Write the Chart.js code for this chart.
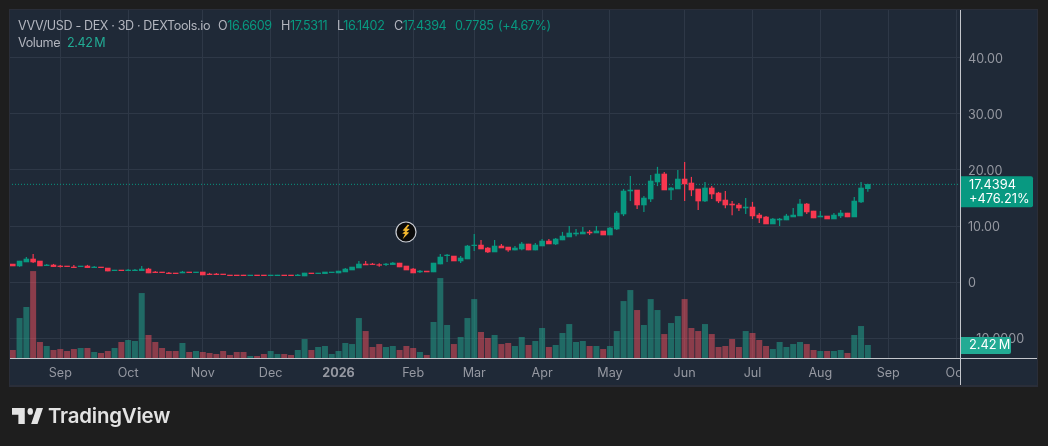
<!DOCTYPE html>
<html>
<head>
<meta charset="utf-8">
<title>VVV/USD</title>
<script src="https://cdn.jsdelivr.net/npm/chart.js@4"></script>
<style>
  html, body { margin: 0; padding: 0; background: #1e1e1e; }
  body { width: 1048px; height: 446px; position: relative; overflow: hidden; font-family: Inter, "Noto Sans", sans-serif; }
  canvas { position: absolute; left: 0; top: 0; }
  .legend { position: absolute; left: 18px; font-size: 12.6px; line-height: 16px; color: #b2b5be; white-space: nowrap; letter-spacing: -0.38px; }
  .legend span { position: absolute; top: 0; }
  .up { color: #089981; }
  .vol { color: #22ab94; word-spacing: -1.5px; }
  #bolt { position: absolute; left: 395px; top: 221px; }
  #logo { position: absolute; left: 12px; top: 408px; }
  #brand { position: absolute; left: 48px; top: 403px; font-size: 20.4px; line-height: 26px; font-weight: 600; color: #e3e3e3; letter-spacing: -0.2px; }
</style>
</head>
<body>
<canvas id="myChart" width="1048" height="446"></canvas>
<div class="legend" style="top:18px">VVV/USD - DEX · 3D · DEXTools.io
  <span style="left:200px">O<b class="up" style="font-weight:400">16.6609</b></span>
  <span style="left:263px">H<b class="up" style="font-weight:400">17.5311</b></span>
  <span style="left:319px">L<b class="up" style="font-weight:400">16.1402</b></span>
  <span style="left:376px">C<b class="up" style="font-weight:400">17.4394</b></span>
  <span style="left:437px" class="up">0.7785</span>
  <span style="left:480px" class="up">(+4.67%)</span>
</div>
<div class="legend" style="top:35px">Volume <span class="vol" style="left:49px">2.42 M</span></div>
<svg id="bolt" width="22" height="22" viewBox="0 0 22 22">
  <circle cx="11" cy="11" r="10" fill="#0b0b0b" stroke="#c9ccd3" stroke-width="1.2"/>
  <path d="M12.8 3.6 L7.6 9.6 L10.4 9.9 L7.2 12.6 L10 13 L7.6 18.2 L14.2 11.4 L11.4 11 L14.8 8 L11.6 7.6 L14.4 4.2 Z" fill="#f5b92e"/>
</svg>
<svg id="logo" width="31" height="16" viewBox="0 0 34 14" preserveAspectRatio="none">
  <path d="M14 0H0v6h7v8h7V0Zm14 14h-7l6-14h7l-6 14Z" fill="#e3e3e3"/>
  <circle cx="20" cy="3" r="3" fill="#e3e3e3"/>
</svg>
<div id="brand">TradingView</div>
<script>
// 3D candles
let opens = [3.21,2.86,3.57,4.11,3.75,2.92,3.04,2.86,2.86,2.68,
  2.74,2.86,2.56,2.68,2.5,2.02,2.14,2.02,2.02,2.02,
  2.32,1.79,1.79,1.61,1.61,1.61,1.79,1.67,1.79,1.43,
  1.43,1.43,1.25,1.25,1.25,1.13,1.25,1.25,1.13,1.13,
  1.25,1.25,1.13,1.07,1.61,1.49,1.49,1.67,1.61,1.79,
  2.14,2.5,3.21,3.21,3.1,3.1,3.1,3.39,2.86,2.32,
  1.79,1.96,1.79,3.21,4.7,4.64,3.75,4.11,6.49,6.6,
  6.07,5.36,6.43,6.25,5.71,5.89,6.79,5.71,6.43,7.32,
  6.79,7.5,8.04,8.57,8.57,8.93,8.75,9.11,8.39,9.46,
  12.14,16.25,16.43,13.75,14.82,17.86,19.29,16.43,16.61,18.39,
  17.68,16.61,14.46,16.79,15.89,14.64,13.93,13.75,13.21,13.39,
  11.96,11.61,10.36,11.07,11.07,11.61,11.79,13.93,12.68,11.61,
  11.79,11.25,11.79,12.32,11.61,14.29,16.6609];
let highs = [3.21,3.75,4.46,5.0,3.75,3.21,3.21,3.04,2.86,3.04,
  2.86,3.04,2.86,2.68,2.5,2.14,2.14,2.32,2.32,2.86,
  2.5,1.96,1.79,1.79,1.61,1.96,1.79,1.79,1.79,1.61,
  1.61,1.43,1.25,1.25,1.25,1.25,1.25,1.25,1.25,1.25,
  1.25,1.25,1.43,1.61,1.61,1.61,1.79,1.79,1.96,2.5,
  2.68,3.75,3.75,3.39,3.33,3.39,3.57,3.39,2.86,2.5,
  2.14,1.96,3.39,5.0,5.0,4.64,4.64,6.6,8.57,7.5,
  6.25,7.5,6.79,6.25,6.43,7.14,6.79,6.96,7.68,7.68,
  7.86,8.93,10,9.46,9.82,9.29,10,9.11,9.82,12.68,
  16.6,18.93,16.43,15.36,19.1,20.54,19.64,16.96,20,21.43,
  18.75,16.61,17.86,17.14,16.07,16.25,14.46,14.11,15,14.29,
  12.32,11.79,11.43,11.43,12.14,13.21,14.82,14.11,12.68,12.68,
  11.79,12.32,12.86,12.32,15.18,17.86,17.5311];
let lows = [2.86,2.74,3.57,3.39,2.86,2.92,2.74,2.62,2.74,2.56,
  2.74,2.56,2.56,2.56,1.96,2.02,2.02,2.02,2.02,2.02,
  1.61,1.67,1.67,1.49,1.49,1.61,1.67,1.67,1.25,1.31,
  1.31,1.31,1.13,1.13,1.13,1.13,1.13,1.13,1.13,1.13,
  1.13,1.13,1.13,1.07,1.49,1.49,1.49,1.67,1.61,1.79,
  2.14,2.5,3.04,3.1,2.74,2.86,3.1,2.68,2.14,1.61,
  1.61,1.79,1.79,3.21,3.57,3.75,3.39,4.11,5.54,5.89,
  5.18,5.36,6.07,5.42,5.71,5.71,5.71,5.71,6.43,6.79,
  6.61,7.5,8.04,8.21,8.57,8.39,8.75,8.39,8.39,9.29,
  11.79,14.46,13.04,12.5,14.29,17.14,16.43,14.64,16.61,14.46,
  15.36,12.86,14.29,14.82,14.11,13.21,11.96,12.68,12.14,11.25,
  10.54,10.36,10.36,10,11.07,11.61,11.79,12.14,11.43,11.61,
  11.25,11.25,11.43,11.61,11.61,14.11,16.1402];
let closes = [2.86,3.75,4.11,3.57,2.86,3.04,2.74,2.74,2.74,2.56,
  2.86,2.56,2.68,2.56,1.96,2.14,2.02,2.14,2.14,2.32,
  1.61,1.67,1.67,1.49,1.49,1.79,1.67,1.79,1.25,1.31,
  1.31,1.31,1.13,1.13,1.13,1.25,1.13,1.13,1.25,1.25,
  1.13,1.13,1.25,1.61,1.49,1.61,1.79,1.79,1.96,2.32,
  2.68,3.21,3.04,3.1,2.98,3.21,3.39,2.68,2.14,1.61,
  1.96,1.79,3.39,4.46,4.82,3.75,4.29,6.43,6.6,5.89,
  5.36,6.43,6.07,5.71,6.07,6.79,5.71,6.61,7.32,6.79,
  7.68,8.21,8.75,8.75,8.93,8.75,9.11,8.39,9.64,12.32,
  16.25,16.43,13.75,15,18.04,19.29,16.43,16.79,18.39,17.5,
  16.43,14.46,16.79,15.71,14.46,13.75,13.75,13.21,13.39,11.79,
  11.43,10.36,11.25,11.25,11.79,11.96,13.93,12.5,11.43,11.79,
  11.25,11.96,12.32,11.61,14.46,16.79,17.4394];
// volume in millions
let volumes = [1.49,7.44,9.49,16.18,2.98,2.23,1.49,1.67,1.30,1.67,
  1.86,1.86,1.12,0.93,1.30,1.86,2.98,3.35,3.16,12.09,
  4.28,2.98,1.86,1.30,1.30,2.79,1.12,1.30,1.12,0.93,
  0.74,1.30,0.56,1.12,1.12,0.37,0.37,0.74,1.30,0.74,
  0.74,0.56,1.49,3.53,1.49,2.05,2.23,0.74,1.30,2.79,
  2.60,7.44,5.02,2.05,2.60,2.05,2.23,1.49,2.23,1.86,
  1.12,0.56,6.70,14.88,6.14,2.60,3.91,7.44,10.97,4.84,
  3.72,4.28,2.60,2.79,2.23,3.91,2.42,3.16,5.58,2.05,
  2.42,4.65,6.32,2.98,3.16,2.23,2.23,1.67,2.23,5.02,
  10.60,12.65,8.93,6.14,10.97,8.93,4.46,6.51,7.81,10.97,
  5.58,5.02,6.32,4.46,2.05,2.23,3.53,2.05,5.02,4.65,
  3.35,2.23,1.67,2.98,2.05,2.60,2.98,2.60,1.49,1.30,
  1.30,1.30,1.49,0.93,4.28,5.95,2.42];

// month labels sit on bar positions, 3 days per bar
let monthBars = [7, 17, 28, 38, 48, 59, 68, 78, 88, 99, 109, 119, 129, 139];
let monthNames = ['Sep', 'Oct', 'Nov', 'Dec', '2026', 'Feb', 'Mar', 'Apr', 'May', 'Jun', 'Jul', 'Aug', 'Sep', 'Oct'];
let priceTicks = [40, 30, 20, 10, 0, -10];

let lastPrice = closes[closes.length - 1];
let lastVolume = volumes[volumes.length - 1];

const upColor = '#089981';
const downColor = '#f7374f';
const gridColor = '#2e3847';
const axisLine = '#c4c6cc';
const panelColor = '#1f2937';

let isUp = opens.map((o, i) => closes[i] >= o);
let candleColors = isUp.map(u => u ? upColor : downColor);
let volumeColors = isUp.map(u => u ? 'rgba(34,171,148,0.5)' : 'rgba(247,82,95,0.5)');

// panel behind the plot, and the parts that sit on top of the axes
let panelPlugin = {
  id: 'panel',
  beforeDraw(chart) {
    let c = chart.ctx;
    c.save();
    c.fillStyle = '#1e1e1e';
    c.fillRect(0, 0, 1048, 446);
    c.fillStyle = '#2a2e39';
    c.fillRect(9, 9, 1029, 378);
    c.fillStyle = panelColor;
    c.fillRect(10, 10, 1027, 375);
    c.restore();
  },
  afterDraw(chart) {
    let c = chart.ctx;
    let y = chart.scales.y;
    let v = chart.scales.y2;
    c.save();
    // the last month label is cut off at the price scale
    c.fillStyle = panelColor;
    c.fillRect(961, 360, 76, 25);
    c.fillStyle = axisLine;
    c.fillRect(10, 358, 1027, 1);
    c.fillRect(960, 10, 1, 375);

    let py = y.getPixelForValue(lastPrice);
    c.fillStyle = upColor;
    c.beginPath();
    c.roundRect(961, py - 8, 72, 31, [0, 2, 2, 0]);
    c.fill();
    c.fillStyle = '#ffffff';
    c.font = '12.8px Inter';
    c.textBaseline = 'middle';
    c.fillText(lastPrice.toFixed(4), 969, py + 0.5);
    c.fillText('+476.21%', 969, py + 15);

    let vy = v.getPixelForValue(lastVolume);
    c.fillStyle = '#22ab94';
    c.beginPath();
    c.roundRect(961, vy - 8, 50, 17, [0, 2, 2, 0]);
    c.fill();
    c.fillStyle = '#ffffff';
    c.wordSpacing = '-1.5px';
    c.fillText(lastVolume.toFixed(2) + ' M', 969, vy + 0.5);
    c.restore();
  }
};

let ctx = document.getElementById('myChart').getContext('2d');
let chart = new Chart(ctx, {
  data: {
    datasets: [
      {
        type: 'line',
        data: [{ x: -1, y: lastPrice }, { x: 140, y: lastPrice }],
        borderColor: upColor,
        borderWidth: 1,
        borderDash: [1, 2],
        pointRadius: 0,
        order: 4
      },
      {
        type: 'bar',
        data: opens.map((o, i) => ({ x: i, y: [o, closes[i]] })),
        backgroundColor: candleColors,
        barThickness: 5,
        grouped: false,
        inflateAmount: 0.3,
        order: 1
      },
      {
        type: 'bar',
        data: lows.map((l, i) => ({ x: i, y: [l, highs[i]] })),
        backgroundColor: candleColors,
        barThickness: 1,
        grouped: false,
        inflateAmount: 0.1,
        order: 2
      },
      {
        type: 'bar',
        data: volumes.map((v, i) => ({ x: i, y: v })),
        yAxisID: 'y2',
        backgroundColor: volumeColors,
        barThickness: 6,
        grouped: false,
        inflateAmount: 0,
        order: 3
      }
    ]
  },
  options: {
    responsive: false,
    animation: false,
    devicePixelRatio: 1,
    layout: { padding: { left: 10, top: 10, right: 12, bottom: 60 } },
    plugins: { legend: { display: false }, tooltip: { enabled: false } },
    scales: {
      x: {
        type: 'linear',
        offset: false,
        min: -0.41,
        max: 139.58,
        afterFit: s => { s.height = 28; s.paddingLeft = 0; s.paddingRight = 0; },
        afterBuildTicks: s => { s.ticks = monthBars.map(b => ({ value: b })); },
        grid: { color: gridColor, drawTicks: false, offset: false },
        border: { display: false },
        ticks: {
          autoSkip: false,
          maxRotation: 0,
          padding: 8,
          color: '#9598a1',
          font: ctx => ({ family: 'Inter', size: 12.6, weight: ctx.tick && ctx.tick.value === 48 ? '700' : '400' }),
          callback: v => monthNames[monthBars.indexOf(v)]
        }
      },
      y: {
        position: 'right',
        min: -13.57,
        max: 48.57,
        afterFit: s => { s.width = 76; s.paddingTop = 0; s.paddingBottom = 0; },
        afterBuildTicks: s => { s.ticks = priceTicks.map(p => ({ value: p })); },
        grid: { color: gridColor, drawTicks: false },
        border: { display: false },
        ticks: {
          crossAlign: 'near',
          padding: 8,
          labelOffset: 1,
          color: '#9598a1',
          font: { family: 'Inter', size: 12.6 },
          callback: v => v === 0 ? '0' : (v < 0 ? '\u2212' + Math.abs(v).toFixed(4) : v.toFixed(2))
        }
      },
      y2: {
        display: false,
        min: 0,
        max: 64.78
      }
    }
  },
  plugins: [panelPlugin]
});
</script>
</body>
</html>
